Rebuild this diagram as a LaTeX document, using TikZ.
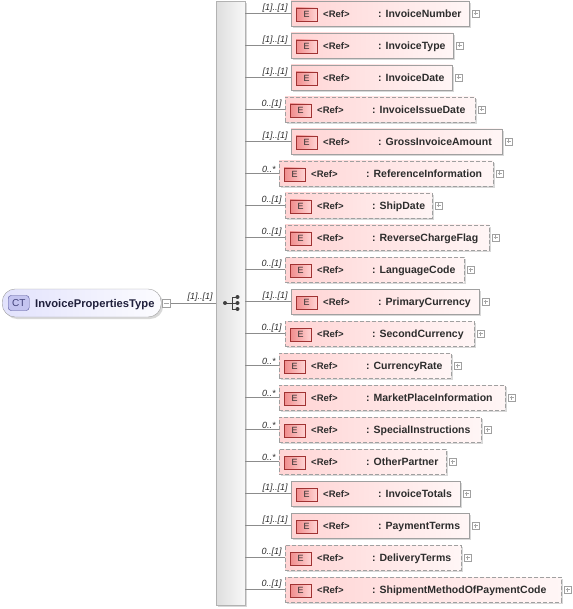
\documentclass[tikz,border=0pt]{standalone}
\usepackage{fontspec}
\setmainfont{Liberation Sans}
\usetikzlibrary{positioning,shadows}

\definecolor{boxline}{RGB}{160,160,160}
\definecolor{elpinkA}{RGB}{255,212,212}
\definecolor{elpinkB}{RGB}{255,246,246}
\definecolor{badgeA}{RGB}{240,140,140}
\definecolor{badgeB}{RGB}{255,212,212}
\definecolor{badgeline}{RGB}{160,50,50}
\definecolor{ctA}{RGB}{226,226,252}
\definecolor{ctB}{RGB}{252,252,255}
\definecolor{ctbadge}{RGB}{196,196,240}
\definecolor{ctline}{RGB}{80,80,150}
\definecolor{seqA}{RGB}{222,222,222}
\definecolor{seqB}{RGB}{248,248,248}
\definecolor{txt}{RGB}{45,45,45}

\tikzset{
	shade/.style={drop shadow={shadow xshift=2pt,shadow yshift=-2pt,fill=black!30,opacity=.5}},
	elbox/.style={draw=boxline,left color=elpinkA,right color=elpinkB,minimum height=25pt,inner sep=0pt,anchor=west,shade},
	optional/.style={dash pattern=on 4pt off 2pt},
	badge/.style={draw=badgeline,left color=badgeA,right color=badgeB,minimum width=21pt,minimum height=13pt,inner sep=0pt,font=\fontsize{9}{9}\selectfont,text=txt},
	eltext/.style={anchor=base west,inner sep=0pt,font=\fontsize{10.5}{10.5}\selectfont\bfseries,text=txt},
	reftext/.style={eltext,font=\fontsize{9.5}{9.5}\selectfont\bfseries},
	mult/.style={anchor=south east,inner sep=1pt,xshift=-2pt,font=\fontsize{9}{9}\selectfont\itshape,text=txt},
	conn/.style={draw=black!45,line width=.6pt},
	plusbox/.style={draw=boxline,fill=white,minimum size=7pt,inner sep=0pt,
		path picture={\draw[black!35,line width=.5pt]
			([xshift=1.5pt]path picture bounding box.west) -- ([xshift=-1.5pt]path picture bounding box.east)
			([yshift=-1.5pt]path picture bounding box.north) -- ([yshift=1.5pt]path picture bounding box.south);}},
	minusbox/.style={draw=boxline,fill=white,minimum size=8pt,inner sep=0pt,
		path picture={\draw[black!35,line width=.5pt]
			([xshift=1.5pt]path picture bounding box.west) -- ([xshift=-1.5pt]path picture bounding box.east);}},
	seqbar/.style={draw=black!30,left color=seqA,right color=seqB,inner sep=0pt,shade}
}

\begin{document}
\begin{tikzpicture}[x=1pt,y=-1pt]
	\useasboundingbox (0,0) rectangle (572,609);

	% complex type
	\node[draw=boxline,left color=ctA,right color=ctB,rounded corners=13pt,minimum width=159pt,minimum height=28pt,anchor=west,inner sep=0pt,shade] (ct) at (2,303) {};
	\node[draw=ctline,fill=ctbadge,rounded corners=3pt,minimum width=21pt,minimum height=15pt,inner sep=0pt,anchor=west,text=ctline!80!black,font=\fontsize{10}{10}\selectfont] (ctb) at ([xshift=6pt]ct.west) {CT};
	\node[eltext,text=ctline!40!black,font=\fontsize{11.2}{11.2}\selectfont\bfseries] (ctname) at ([xshift=33pt,yshift=-4pt]ct.west) {InvoicePropertiesType};
	\node[minusbox,right=1pt of ct] (ctm) {};

	% sequence
	\node[seqbar,anchor=north west,minimum width=29pt,minimum height=604pt] (seq) at (216,1) {};
	\draw[conn] (ctm.east) -- node[pos=1,mult] {[1]..[1]} (seq.west |- ctm.east);
	\fill[black!75] (225,303) circle (2) (237.5,297) circle (2) (237.5,303) circle (2) (237.5,309) circle (2);
	\draw[black!75,line width=.8pt] (225,303) -- (232,303) (232,297) -- (232,309)
		(232,297) -- (237.5,297) (232,303) -- (237.5,303) (232,309) -- (237.5,309);

	% elements
	\foreach \i/\name/\l/\r/\m/\kind in {
		1/InvoiceNumber/291/469/{[1]..[1]}/solid,
		2/InvoiceType/291/453/{[1]..[1]}/solid,
		3/InvoiceDate/291/452/{[1]..[1]}/solid,
		4/InvoiceIssueDate/285/475/{0..[1]}/optional,
		5/GrossInvoiceAmount/291/502/{[1]..[1]}/solid,
		6/ReferenceInformation/279/493/{0..*}/optional,
		7/ShipDate/285/432/{0..[1]}/optional,
		8/ReverseChargeFlag/285/489/{0..[1]}/optional,
		9/LanguageCode/285/464/{0..[1]}/optional,
		10/PrimaryCurrency/291/479/{[1]..[1]}/solid,
		11/SecondCurrency/285/474/{0..[1]}/optional,
		12/CurrencyRate/279/451/{0..*}/optional,
		13/MarketPlaceInformation/279/505/{0..*}/optional,
		14/SpecialInstructions/279/481/{0..*}/optional,
		15/OtherPartner/279/446/{0..*}/optional,
		16/InvoiceTotals/291/460/{[1]..[1]}/solid,
		17/PaymentTerms/291/469/{[1]..[1]}/solid,
		18/DeliveryTerms/285/461/{0..[1]}/optional,
		19/ShipmentMethodOfPaymentCode/285/561/{0..[1]}/optional}
	{
		\pgfmathsetmacro{\y}{13.5+32*(\i-1)}
		\pgfmathsetmacro{\w}{\r-\l}
		\node[elbox,\kind,minimum width=\w pt] (el\i) at (\l,\y) {};
		\node[badge,anchor=west] (e\i) at ([xshift=5pt,yshift=-1pt]el\i.west) {E};
		\node[reftext] (ref\i) at ([xshift=32pt,yshift=-4pt]el\i.west) {<Ref>};
		\node[eltext] (n\i) at ([xshift=87pt,yshift=-4pt]el\i.west) {: \name};
		\node[plusbox,right=2.5pt of el\i] (p\i) {};
		\draw[conn] (seq.east |- el\i.west) -- node[pos=1,mult] {\m} (el\i.west);
	}
\end{tikzpicture}
\end{document}
